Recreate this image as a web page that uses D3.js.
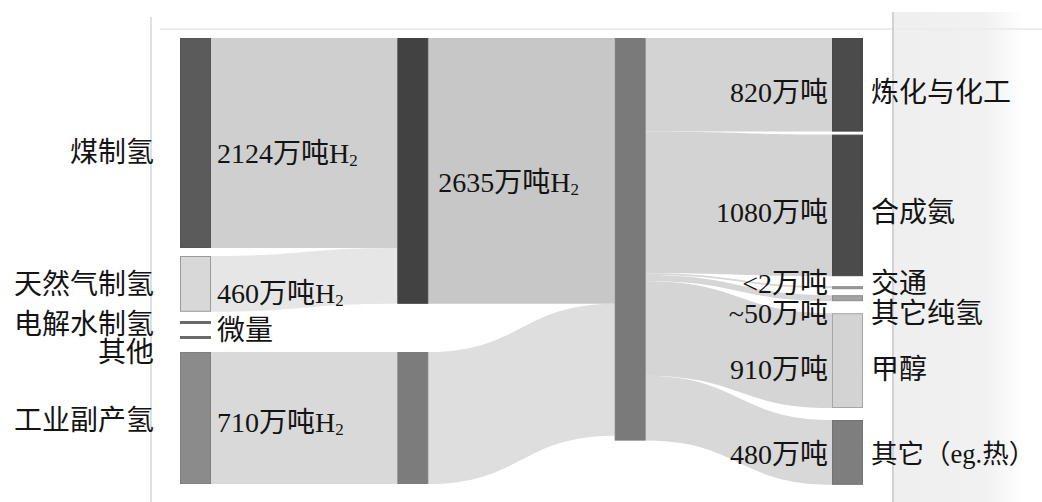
<!DOCTYPE html>
<html><head><meta charset="utf-8">
<script src="https://cdn.jsdelivr.net/npm/d3@7"></script>
<style>body{margin:0;background:#fff}svg{display:block}</style>
</head><body><svg id="c" width="1042" height="502"></svg>
<script>
// ---------------- data ----------------
// sources of hydrogen (column 1)
const sourceNames  = ["煤制氢", "天然气制氢", "电解水制氢", "其他", "工业副产氢"];
const sourceFlow   = [1750, 465, 0, 0, 1100];          // band magnitude as drawn (万吨)
const sourceLabels = ["2124万吨H₂", "460万吨H₂", "微量", "", "710万吨H₂"];
const sourceTarget = [0, 0, -1, -1, 1];                 // which middle node each source feeds
// intermediate columns
const midNames  = ["化石能源制氢", "副产氢"];
const midLabels = ["2635万吨H₂", ""];
const hubName   = "氢气";
// uses (column 4)
const useNames  = ["炼化与化工", "合成氨", "交通", "其它纯氢", "甲醇", "其它（eg.热）"];
const useFlow   = [780, 1180, 15, 50, 790, 540];         // band magnitude as drawn (万吨)
const useLabels = ["820万吨", "1080万吨", "<2万吨", "~50万吨", "910万吨", "480万吨"];

// ---------------- styles / layout ----------------
const W = 1042, H = 502, TOP = 38, NODE_W = 31, MIN_H = 3;
const FONT = "'Liberation Serif','Noto Sans CJK SC',serif";
const srcGaps = [8, 9.2, 12, 13];
const useGaps = [3, 10, 6, 12, 12];
const srcFill   = ["#5b5b5b", "#d8d8d8", "#6a6a6a", "#6a6a6a", "#8b8b8b"];
const srcStroke = ["#555", "#9a9a9a", "#6a6a6a", "#6a6a6a", "#7f7f7f"];
const midFill   = ["#424242", "#7c7c7c"];
const hubFill   = "#7a7a7a";
const useFill   = ["#4b4b4b", "#4b4b4b", "#9a9a9a", "#a3a3a3", "#d3d3d3", "#7e7e7e"];
const useStroke = ["#474747", "#474747", "#8a8a8a", "#8c8c8c", "#a6a6a6", "#737373"];
const srcLinkFill = ["#cfcfcf", "#e6e6e6", "#ddd", "#ddd", "#d9d9d9"];
const midLinkFill = ["#c7c7c7", "#dedede"];
const useLinkFill = ["#d3d3d3", "#d3d3d3", "#d6d6d6", "#d6d6d6", "#d5d5d5", "#d8d8d8"];
const srcNameDy = [9, 1, 2, 15, 2];
const srcLabDy  = [10, 9, 0, 0, 4];
const useNameDy = [8, 7, -4, 15, 9, 2];
const useNameSize = [28, 28, 28, 28, 28, 26.5];

const svg = d3.select("#c");
const x = d3.scaleLinear().domain([0, 3]).range([180, 832]);
const y = d3.scaleLinear().domain([0, 3400]).range([0, 408]);

// background decorations
const defs = svg.append("defs");
const g = defs.append("linearGradient").attr("id", "panel").attr("x1", 0).attr("x2", 1);
g.append("stop").attr("offset", "0%").attr("stop-color", "#efefef");
g.append("stop").attr("offset", "70%").attr("stop-color", "#f1f1f1");
g.append("stop").attr("offset", "100%").attr("stop-color", "#fff");
svg.append("rect").attr("x", 894).attr("y", 12).attr("width", 130).attr("height", H - 12).attr("fill", "url(#panel)");
svg.append("line").attr("x1", 160).attr("x2", W).attr("y1", 29).attr("y2", 29).attr("stroke", "#ededed").attr("stroke-width", 2);
svg.append("line").attr("x1", 151).attr("x2", 151).attr("y1", 17).attr("y2", H).attr("stroke", "#d6d6d6").attr("stroke-width", 1.5);
svg.append("line").attr("x1", 893).attr("x2", 893).attr("y1", 12).attr("y2", H).attr("stroke", "#c4c4c4").attr("stroke-width", 1.5);

// ---------------- layout ----------------
function stack(values, gaps, col) {
  let cur = TOP;
  return values.map((v, i) => {
    if (i > 0) cur += gaps[i - 1];
    const h = Math.max(y(v), MIN_H);
    const n = {col, x0: x(col), x1: x(col) + NODE_W, y0: cur, y1: cur + h, value: v, outOff: 0, inOff: 0};
    cur += h;
    return n;
  });
}
const srcNodes = stack(sourceFlow, srcGaps, 0);
const midVals = midNames.map((_, m) => d3.sum(sourceFlow.filter((v, i) => sourceTarget[i] === m)));
const midNodes = midVals.map((v, m) => {
  const y0 = m === 0 ? TOP : srcNodes[sourceTarget.indexOf(m)].y0;
  return {col: 1, x0: x(1), x1: x(1) + NODE_W, y0, y1: y0 + y(v), value: v, outOff: 0, inOff: 0};
});
const hubVal = d3.sum(useFlow);
const hub = {col: 2, x0: x(2), x1: x(2) + NODE_W, y0: TOP, y1: TOP + y(hubVal), value: hubVal, outOff: 0, inOff: 0};
const useNodes = stack(useFlow, useGaps, 3);

const links = [];
function link(s, t, v, fill) {
  if (!(v > 0)) return;
  const h = y(v);
  links.push({s, t, sy: s.y0 + s.outOff, ty: t.y0 + t.inOff, h, fill});
  s.outOff += h; t.inOff += h;
}
sourceFlow.forEach((v, i) => { if (sourceTarget[i] >= 0) link(srcNodes[i], midNodes[sourceTarget[i]], v, srcLinkFill[i]); });
midNodes.forEach((n, m) => link(n, hub, n.value, midLinkFill[m]));
useFlow.forEach((v, i) => link(hub, useNodes[i], v, useLinkFill[i]));

function bandPath(l) {
  const p = d3.path();
  const x0 = l.s.x1, x1 = l.t.x0, xm = (x0 + x1) / 2;
  p.moveTo(x0, l.sy);
  p.bezierCurveTo(xm, l.sy, xm, l.ty, x1, l.ty);
  p.lineTo(x1, l.ty + l.h);
  p.bezierCurveTo(xm, l.ty + l.h, xm, l.sy + l.h, x0, l.sy + l.h);
  p.closePath();
  return p.toString();
}
svg.append("g").selectAll("path").data(links).join("path")
  .attr("d", bandPath).attr("fill", d => d.fill);

// nodes
function drawNodes(nodes, fills, strokes) {
  svg.append("g").selectAll("rect").data(nodes).join("rect")
    .attr("x", d => d.x0 + 0.5).attr("y", d => d.y0 + 0.5)
    .attr("width", d => d.x1 - d.x0 - 1).attr("height", d => Math.max(d.y1 - d.y0 - 1, 1.5))
    .attr("fill", (d, i) => fills[i]).attr("stroke", (d, i) => strokes ? strokes[i] : fills[i]).attr("stroke-width", 1);
}
drawNodes(srcNodes, srcFill, srcStroke);
drawNodes(midNodes, midFill);
drawNodes([hub], [hubFill]);
drawNodes(useNodes, useFill, useStroke);

// labels
function label(str, xx, yy, anchor, size) {
  if (!str) return;
  const t = svg.append("text").attr("x", xx).attr("y", yy).attr("text-anchor", anchor)
    .attr("font-family", FONT).attr("font-size", size || 28).attr("fill", "#141414")
    .attr("dominant-baseline", "central");
  if (str.endsWith("₂")) {
    t.append("tspan").text(str.slice(0, -1));
    t.append("tspan").text("2").attr("font-size", 17).attr("dy", 7);
  } else t.text(str);
}
const mid = n => (n.y0 + n.y1) / 2;
srcNodes.forEach((n, i) => label(sourceNames[i], 154, mid(n) + srcNameDy[i], "end"));
// "微量" sits between the two trace lines
srcNodes.forEach((n, i) => {
  if (i === 2) label(sourceLabels[i], srcNodes[0].x1 + 6, (srcNodes[2].y0 + srcNodes[3].y1) / 2, "start");
  else label(sourceLabels[i], n.x1 + 6, mid(n) + srcLabDy[i], "start");
});
midNodes.forEach((n, m) => label(midLabels[m], n.x1 + 10, mid(n) + 11, "start"));
useNodes.forEach((n, i) => {
  label(useLabels[i], n.x0 - 4, mid(n) + useNameDy[i], "end");
  label(useNames[i], n.x1 + 8, mid(n) + useNameDy[i], "start", useNameSize[i]);
});
</script></body></html>
